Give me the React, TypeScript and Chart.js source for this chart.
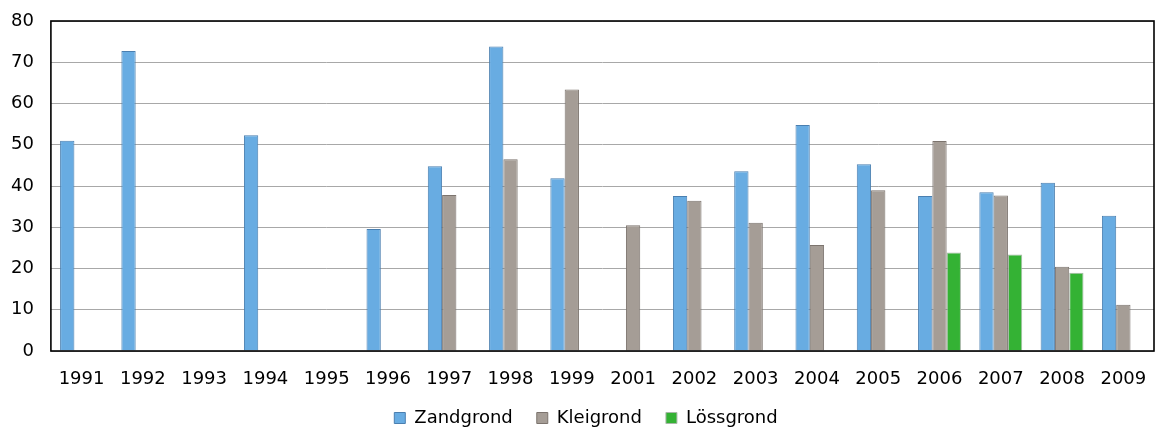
import React, { useEffect, useRef } from "react";
import { Chart, registerables } from "chart.js";

Chart.register(...registerables);

const years = [
  "1991", "1992", "1993", "1994", "1995", "1996", "1997", "1998", "1999",
  "2001", "2002", "2003", "2004", "2005", "2006", "2007", "2008", "2009",
];

const zandgrond = [51, 72.7, null, 52.3, null, 29.6, 44.8, 73.8, 41.9, null, 37.6, 43.6, 54.8, 45.3, 37.6, 38.5, 40.8, 32.8];
const kleigrond = [null, null, null, null, null, null, 37.8, 46.5, 63.4, 30.5, 36.4, 31.1, 25.7, 39, 50.9, 37.7, 20.4, 11.2];
const lossgrond = [null, null, null, null, null, null, null, null, null, null, null, null, null, null, 23.9, 23.4, 19, null];

const seriesNames = ["Zandgrond", "Kleigrond", "Lössgrond"];

const FONT = "'DejaVu Sans', Verdana, sans-serif";

// Dark frame round the plot area
const frame = {
  id: "frame",
  afterDatasetsDraw(chart: any) {
    const { ctx, chartArea } = chart;
    ctx.save();
    ctx.strokeStyle = "#000";
    ctx.lineWidth = 1.6;
    ctx.strokeRect(chartArea.left, chartArea.top, chartArea.right - chartArea.left, chartArea.bottom - chartArea.top);
    ctx.restore();
  },
};

// Nudge the legend a little to the right of the canvas centre
const legendShift = {
  id: "legendShift",
  afterLayout(chart: any) {
    const lg = chart.legend;
    if (!lg) return;
    const dx = 12;
    lg.left += dx;
    lg.right += dx;
  },
};

export default function App() {
  const ref = useRef<HTMLCanvasElement | null>(null);

  useEffect(() => {
    if (!ref.current) return;
    const chart = new Chart(ref.current, {
      type: "bar",
      data: {
        labels: years,
        datasets: [
          { label: seriesNames[0], data: zandgrond, backgroundColor: "#68ace2", borderColor: "#4a7fb0", borderWidth: 1 },
          { label: seriesNames[1], data: kleigrond, backgroundColor: "#a59d96", borderColor: "#7c746e", borderWidth: 1 },
          { label: seriesNames[2], data: lossgrond, backgroundColor: "#34b234", borderColor: "#a8b8a8", borderWidth: 1 },
        ],
      },
      plugins: [frame, legendShift],
      options: {
        responsive: true,
        maintainAspectRatio: false,
        animation: false,
        layout: { padding: { left: -6, right: 2, top: 21, bottom: 0 } },
        datasets: { bar: { categoryPercentage: 0.7, barPercentage: 1 } },
        plugins: {
          tooltip: { enabled: false },
          legend: {
            position: "bottom",
            maxHeight: 45,
            labels: {
              font: { family: FONT, size: 18 },
              color: "#000",
              boxWidth: 11,
              boxHeight: 11,
              padding: 24,
            },
          },
        },
        scales: {
          x: {
            grid: { display: false, drawTicks: false },
            border: { display: false },
            ticks: { font: { family: FONT, size: 18 }, color: "#000", padding: 18, maxRotation: 0, autoSkip: false },
            afterFit: (scale: any) => {
              scale.height = 34;
              scale.paddingLeft = 0;
              scale.paddingRight = 0;
            },
          },
          y: {
            min: 0,
            max: 80,
            grid: { color: "#a8a8a8", lineWidth: 1, drawTicks: false },
            border: { display: false },
            ticks: { stepSize: 10, font: { family: FONT, size: 18, lineHeight: 0.6 }, color: "#000", padding: 17 },
            afterFit: (scale: any) => {
              scale.paddingTop = 0;
              scale.paddingBottom = 0;
            },
          },
        },
      },
    });
    return () => chart.destroy();
  }, []);

  return (
    <div style={{ position: "absolute", left: 0, top: 0, width: 1156, height: 430, background: "#fff" }}>
      <canvas ref={ref} />
    </div>
  );
}
